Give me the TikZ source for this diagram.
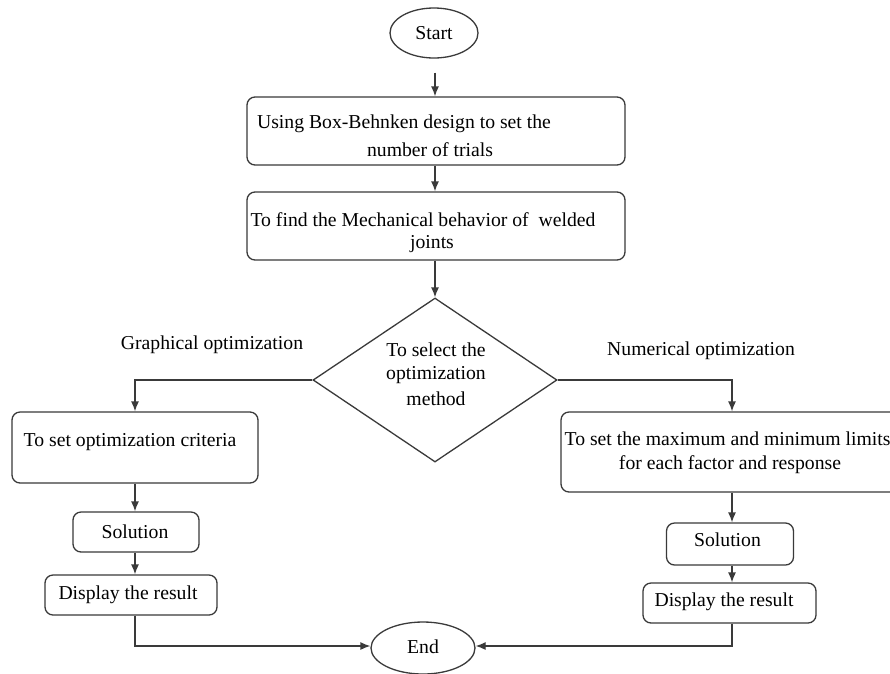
\documentclass[tikz,border=0pt]{standalone}
\usepackage{fontspec}
\setmainfont{Liberation Serif}
\usetikzlibrary{shapes.geometric,arrows.meta,calc}
\definecolor{linec}{HTML}{3A3A3A}
\begin{document}
\begin{tikzpicture}[x=1pt,y=-1pt,
  every node/.style={font=\rmfamily\fontsize{19.7}{25}\selectfont, text=black},
  shp/.style={draw=linec, line width=1.3pt, inner sep=0pt},
  box/.style={shp, rounded corners=8pt},
  oval/.style={shp, ellipse},
  dia/.style={shp, diamond},
  txt/.style={inner sep=0pt},
  conn/.style={draw=linec, line width=1.3pt, -{Latex[length=10pt,width=8pt]}},
  plain/.style={draw=linec, line width=1.3pt}]
\clip (0,0) rectangle (890,673);
\fill[white] (0,0) rectangle (890,673);
% column coordinates
\coordinate (mc) at (435,0);
\coordinate (lc) at (135,0);
\coordinate (rc) at (732,0);
% shapes
\node[oval, minimum width=88pt, minimum height=50pt] (start) at (434,33) {};
\node[box, minimum width=378pt, minimum height=68pt] (b1) at (436,131) {};
\node[box, minimum width=378pt, minimum height=68pt] (b2) at (436,226) {};
\node[dia, minimum width=244pt, minimum height=164pt] (d) at (435,380) {};
\node[box, minimum width=246pt, minimum height=71pt] (l1) at (135,447.5) {};
\node[box, minimum width=126pt, minimum height=40pt] (sl) at (136,532) {};
\node[box, minimum width=172pt, minimum height=40pt] (dl) at (131,595) {};
\node[box, minimum width=342pt, minimum height=80pt] (r1) at (732,452) {};
\node[box, minimum width=127pt, minimum height=42pt] (sr) at (730,544) {};
\node[box, minimum width=173pt, minimum height=40pt] (dr) at (729.5,603) {};
\node[oval, minimum width=104pt, minimum height=52pt] (end) at (423,648) {};
% texts
\node[txt] (tstart) at (434,33) {Start};
\node[txt] (tb1a) at (404,124) {Using Box-Behnken design to set the};
\node[txt] (tb1b) at (430,150) {number of trials};
\node[txt] (tb2a) at (423,220) {To find the Mechanical behavior of \ welded};
\node[txt] (tb2b) at (432,244) {joints};
\node[txt] (td1) at (436,350) {To select the};
\node[txt] (td2) at (436,375) {optimization};
\node[txt] (td3) at (436,399) {method};
\node[txt] (tgr) at (212,345) {Graphical optimization};
\node[txt] (tnu) at (701,351) {Numerical optimization};
\node[txt] (tl1) at (130,442) {To set optimization criteria};
\node[txt] (tsl) at (135,532) {Solution};
\node[txt] (tdl) at (128,595) {Display the result};
\node[txt] (tr1a) at (727.5,439) {To set the maximum and minimum limits};
\node[txt] (tr1b) at (730,465) {for each factor and response};
\node[txt] (tsr) at (727.5,540) {Solution};
\node[txt] (tdr) at (724,602) {Display the result};
\node[txt] (tend) at (423,647) {End};
% connectors
\draw[conn, shorten <=14pt] (start.south -| mc) -- (b1.north -| mc);
\draw[conn] (b1.south -| mc) -- (b2.north -| mc);
\draw[conn] (b2.south -| mc) -- (d.north);
\draw[conn] (d.west) -| (l1.north -| lc);
\draw[conn] (d.east) -| (r1.north -| rc);
\draw[conn] (l1.south -| lc) -- (sl.north -| lc);
\draw[conn] (sl.south -| lc) -- (dl.north -| lc);
\draw[conn] (r1.south -| rc) -- (sr.north -| rc);
\draw[conn] (sr.south -| rc) -- (dr.north -| rc);
\draw[conn] (dl.south -| lc) |- ([yshift=2pt]end.west);
\draw[conn] (dr.south -| rc) |- ([yshift=2pt]end.east);
\end{tikzpicture}
\end{document}
